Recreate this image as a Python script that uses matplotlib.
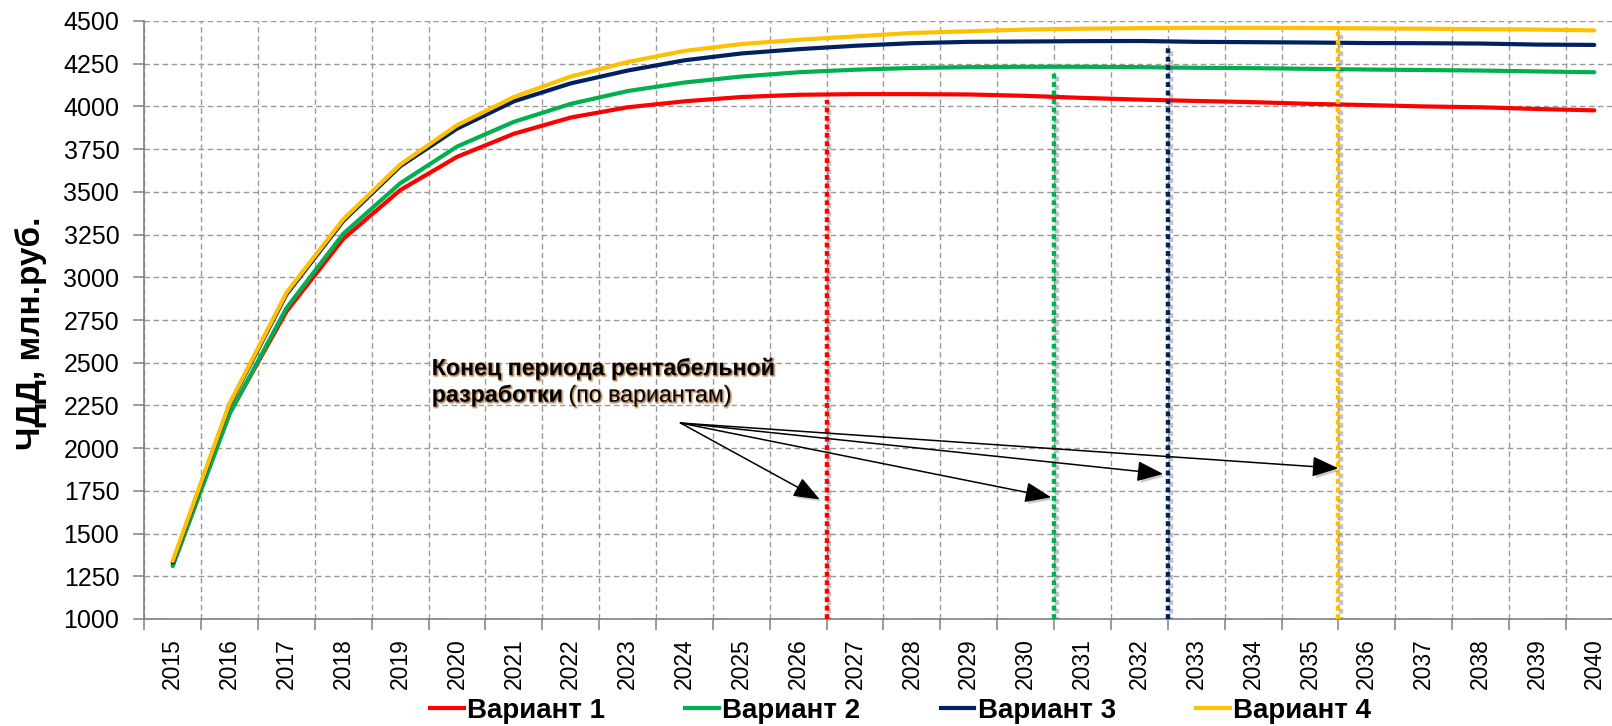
import matplotlib
matplotlib.use("Agg")
import matplotlib.pyplot as plt
import matplotlib.patheffects as pe
from matplotlib.lines import Line2D
import numpy as np

plt.rcParams['font.family'] = ['Liberation Sans', 'DejaVu Sans']

# ---------------- data ----------------
years = list(range(2015, 2041))
variant_names = ["Вариант 1", "Вариант 2", "Вариант 3", "Вариант 4"]
colors = ["#ff0000", "#00b050", "#002060", "#ffc000"]

v1 = [1315, 2205, 2800, 3225, 3510, 3705, 3840, 3935, 3995, 4030, 4055, 4068, 4072,
      4072, 4070, 4062, 4050, 4040, 4032, 4025, 4015, 4008, 4000, 3995, 3985, 3977]
v2 = [1310, 2200, 2820, 3255, 3550, 3765, 3910, 4015, 4090, 4140, 4175, 4200, 4215,
      4225, 4230, 4232, 4232, 4230, 4226, 4224, 4220, 4216, 4213, 4210, 4205, 4200]
v3 = [1330, 2255, 2900, 3330, 3650, 3870, 4030, 4135, 4210, 4270, 4310, 4335, 4355,
      4370, 4378, 4380, 4382, 4383, 4378, 4376, 4374, 4371, 4370, 4368, 4362, 4360]
v4 = [1340, 2262, 2910, 3340, 3660, 3890, 4055, 4175, 4260, 4325, 4365, 4390, 4410,
      4430, 4440, 4450, 4455, 4458, 4460, 4460, 4459, 4457, 4455, 4452, 4450, 4445]
series = [v1, v2, v3, v4]

# end of profitable period (between year ticks) and top of marker line
end_period_x = [2026.5, 2030.5, 2032.5, 2035.5]
end_period_top = [4040, 4195, 4340, 4436]

# annotation arrows
arrow_origin = (2023.93, 2147)
arrow_tip_x = [2026.38, 2030.45, 2032.42, 2035.5]
arrow_tip_y = [1700, 1712, 1849, 1882]

y_ticks = list(range(1000, 4501, 250))
y_label = "ЧДД, млн.руб."
note_bold_1 = "Конец периода рентабельной"
note_bold_2 = "разработки"
note_regular = " (по вариантам)"

# ---------------- figure ----------------
W, H = 1612, 726
fig = plt.figure(figsize=(W / 100, H / 100), dpi=100)
ax = fig.add_axes([144.3 / W, 1 - 619 / H, 1478.4 / W, 598 / H])

ax.set_xlim(years[0] - 0.5, years[-1] + 0.5)
ax.set_ylim(1000, 4500)

grid_kw = dict(color="#999999", linewidth=1.0, linestyle=(0, (4, 2.5)))
ax.set_yticks(y_ticks)
ax.set_yticklabels([str(v) for v in y_ticks], fontsize=18)
ax.set_xticks(years)
ax.set_xticklabels([str(y) for y in years], rotation=90, fontsize=16.5)
ax.set_xticks(np.arange(years[0] - 0.5, years[-1] + 1.0, 1.0), minor=True)
ax.tick_params(axis="x", which="major", length=0, pad=14)
ax.tick_params(axis="x", which="minor", length=8, color="#808080", width=1.1)
ax.tick_params(axis="y", which="major", length=8, color="#808080", width=1.1, pad=10)
ax.grid(True, axis="y", which="major", **grid_kw)
ax.grid(True, axis="x", which="minor", **grid_kw)
ax.grid(False, axis="x", which="major")
ax.set_axisbelow(True)
for s in ("top", "right"):
    ax.spines[s].set_visible(False)
for s in ("left", "bottom"):
    ax.spines[s].set_color("#808080")
    ax.spines[s].set_linewidth(1.2)

# curves
for vals, c in zip(series, colors):
    ax.plot(years, vals, color=c, linewidth=3.0, solid_capstyle="round", zorder=3)

# vertical dotted markers
shadow = [pe.SimpleLineShadow(offset=(2, -2), shadow_color="#555555", alpha=0.35), pe.Normal()]
for x, top, c in zip(end_period_x, end_period_top, colors):
    ax.plot([x, x], [1000, top], color=c, linewidth=3.2,
            linestyle=(0, (1.1, 0.8)), zorder=4, path_effects=shadow)

# annotation text
glow = [pe.Stroke(linewidth=1.6, foreground="#c8782a", alpha=0.45, offset=(0.8, -0.8)),
        pe.Normal()]
tx = 2019.555
fs_note = 16.7
ax.text(tx, 2428, note_bold_1, fontsize=fs_note, fontweight="bold", ha="left",
        va="baseline", zorder=6, path_effects=glow)
t2 = ax.text(tx, 2272, note_bold_2, fontsize=fs_note, fontweight="bold", ha="left",
             va="baseline", zorder=6, path_effects=glow)
ax.annotate(note_regular, xy=(1, 0), xycoords=t2, fontsize=fs_note, ha="left",
            va="bottom", zorder=6, path_effects=glow)

# arrows
for x, y in zip(arrow_tip_x, arrow_tip_y):
    ann = ax.annotate("", xy=(x, y), xytext=arrow_origin, zorder=5,
                      arrowprops=dict(arrowstyle="-|>,head_length=0.9,head_width=0.35",
                                      color="black", lw=1.1, mutation_scale=18,
                                      shrinkA=0, shrinkB=0))
    ann.arrow_patch.set_path_effects(
        [pe.SimplePatchShadow(offset=(2, -2), shadow_rgbFace="#666666", alpha=0.35),
         pe.Normal()])

# y label
fig.text(31 / W, 1 - 333 / H, y_label, rotation=90, fontsize=24, fontweight="bold",
         ha="center", va="center")

# legend
handles = [Line2D([0], [0], color=c, linewidth=3.0) for c in colors]
fig.legend(handles, variant_names, loc="center left", bbox_to_anchor=(430 / W, 1 - 711 / H),
           ncol=4, frameon=False, prop=dict(size=20, weight="bold"),
           handlelength=1.22, handletextpad=0.12, columnspacing=2.88,
           borderpad=0, borderaxespad=0)

fig.savefig("out.png", dpi=100)
